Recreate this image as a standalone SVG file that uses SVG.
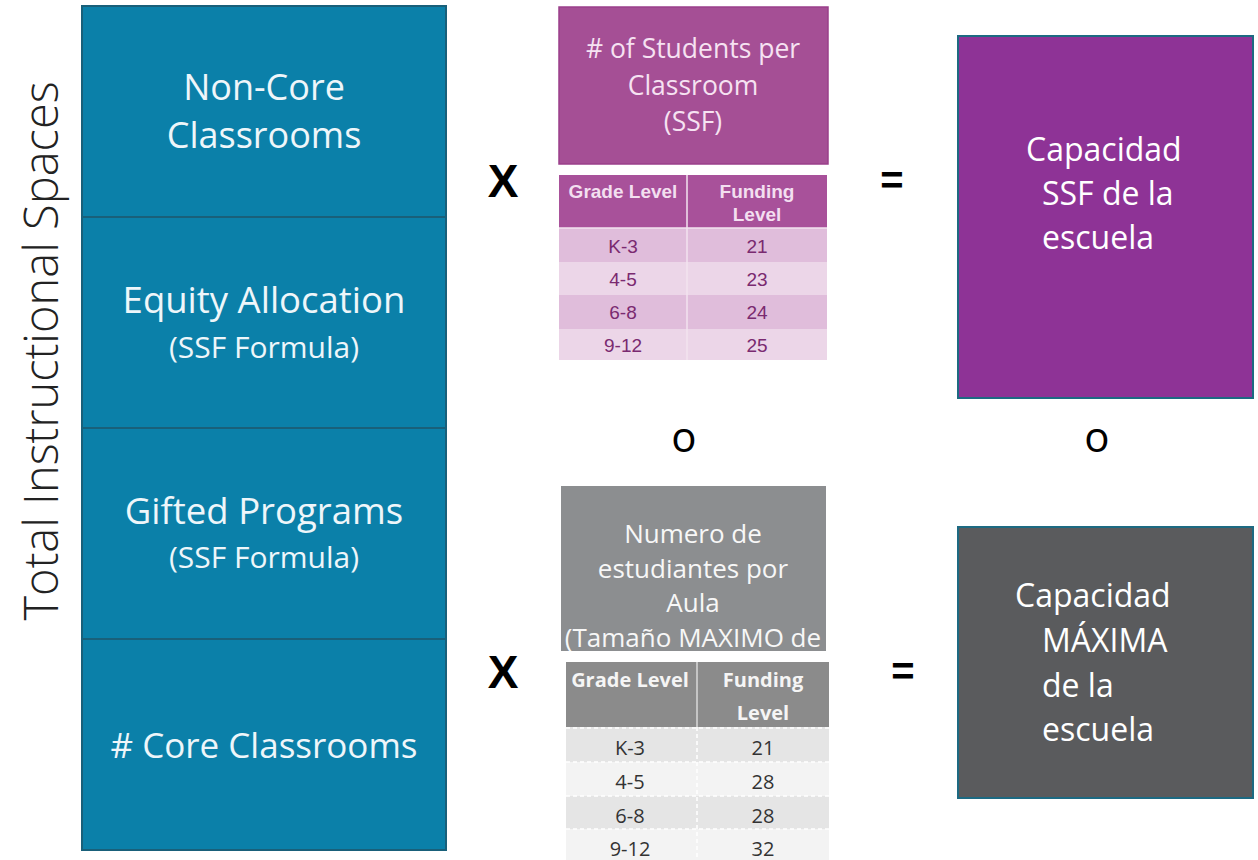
<svg xmlns="http://www.w3.org/2000/svg" width="1258" height="860" viewBox="0 0 1258 860">
<defs>
<style>
.os{font-family:"Open Sans","Liberation Sans",sans-serif}
.ar{font-family:"Liberation Sans",Arial,sans-serif}
.lt{fill:#eef6fa}
.seg{fill:#0b80a9;stroke:#19607a;stroke-width:2}
.mid{text-anchor:middle}
.ptxt{fill:#7a2a70;font-size:19px}
.gtxt{fill:#333;font-size:20px}
.op{font-weight:bold;fill:#000}
</style>
<clipPath id="gclip"><rect x="561" y="486" width="265" height="165"/></clipPath>
</defs>
<rect width="1258" height="860" fill="#fff"/>

<g id="axis-label">
<text class="os" transform="translate(58,351) rotate(-90)" text-anchor="middle" font-size="47" font-weight="300" fill="#222">Total Instructional Spaces</text>
</g>

<g id="non-core">
<rect class="seg" x="82" y="6" width="364" height="211"/>
<text class="os lt mid" font-size="36"><tspan x="264" y="100">Non-Core</tspan><tspan x="264" y="148">Classrooms</tspan></text>
</g>
<g id="equity">
<rect class="seg" x="82" y="217" width="364" height="211"/>
<text class="os lt mid" x="264" y="313" font-size="36.5">Equity Allocation</text>
<text class="os lt mid" x="264" y="358" font-size="30">(SSF Formula)</text>
</g>
<g id="gifted">
<rect class="seg" x="82" y="428" width="364" height="211"/>
<text class="os lt mid" x="264" y="524" font-size="36.5">Gifted Programs</text>
<text class="os lt mid" x="264" y="568" font-size="30">(SSF Formula)</text>
</g>
<g id="core">
<rect class="seg" x="82" y="639" width="364" height="211"/>
<text class="os lt mid" x="264" y="758" font-size="35"># Core Classrooms</text>
</g>

<g id="ssf-students">
<rect x="559" y="7" width="269" height="157" fill="#a54f95" stroke="#9a3f8a" stroke-width="1.5"/>
<text class="os mid" fill="#f6e2f2" font-size="26.5"><tspan x="693" y="58"># of Students per</tspan><tspan x="693" y="95">Classroom</tspan><tspan x="693" y="131">(SSF)</tspan></text>
</g>

<g id="ssf-table">
<rect x="559" y="175" width="268" height="53" fill="#a8519a"/>
<rect x="559" y="228" width="268" height="34" fill="#e0bddb"/>
<rect x="559" y="262" width="268" height="33" fill="#ecd6e8"/>
<rect x="559" y="295" width="268" height="34" fill="#e0bddb"/>
<rect x="559" y="329" width="268" height="31" fill="#ecd6e8"/>
<line x1="687" y1="175" x2="687" y2="360" stroke="#f3e3ef" stroke-width="1.5"/>
<line x1="559" y1="228" x2="827" y2="228" stroke="#f3e3ef" stroke-width="1.5"/>
<text class="ar mid" font-weight="bold" font-size="19" fill="#f3dff0"><tspan x="623" y="198">Grade Level</tspan><tspan x="757" y="198">Funding</tspan><tspan x="757" y="221">Level</tspan></text>
<text class="ar ptxt mid"><tspan x="623" y="253">K-3</tspan><tspan x="623" y="286">4-5</tspan><tspan x="623" y="319">6-8</tspan><tspan x="623" y="352">9-12</tspan></text>
<text class="ar ptxt mid"><tspan x="757" y="253">21</tspan><tspan x="757" y="286">23</tspan><tspan x="757" y="319">24</tspan><tspan x="757" y="352">25</tspan></text>
</g>

<g id="max-students">
<rect x="561" y="486" width="265" height="165" fill="#8c8e90"/>
<text class="os mid" fill="#f7f7f7" font-size="26" clip-path="url(#gclip)"><tspan x="693" y="543">Numero de</tspan><tspan x="693" y="578">estudiantes por</tspan><tspan x="693" y="612">Aula</tspan><tspan x="693" y="647">(Tamaño MAXIMO de</tspan></text>
</g>

<g id="max-table">
<rect x="566" y="662" width="263" height="65" fill="#8b8b8b"/>
<rect x="566" y="727" width="263" height="35" fill="#e5e5e5"/>
<rect x="566" y="762" width="263" height="34" fill="#f3f3f3"/>
<rect x="566" y="796" width="263" height="33" fill="#e5e5e5"/>
<rect x="566" y="829" width="263" height="31" fill="#f3f3f3"/>
<line x1="697" y1="662" x2="697" y2="727" stroke="#d8d8d8" stroke-width="1.5"/>
<g stroke="#fff" stroke-width="1.5" stroke-dasharray="4 3">
<line x1="697" y1="727" x2="697" y2="860"/>
<line x1="566" y1="728" x2="829" y2="728"/>
<line x1="566" y1="762" x2="829" y2="762"/>
<line x1="566" y1="796" x2="829" y2="796"/>
<line x1="566" y1="829" x2="829" y2="829"/>
</g>
<text class="os mid" font-weight="bold" font-size="20" fill="#f5f5f5"><tspan x="630" y="687">Grade Level</tspan><tspan x="763" y="687">Funding</tspan><tspan x="763" y="720">Level</tspan></text>
<text class="os gtxt mid"><tspan x="630" y="755">K-3</tspan><tspan x="630" y="789">4-5</tspan><tspan x="630" y="823">6-8</tspan><tspan x="630" y="856">9-12</tspan></text>
<text class="os gtxt mid"><tspan x="763" y="755">21</tspan><tspan x="763" y="789">28</tspan><tspan x="763" y="823">28</tspan><tspan x="763" y="856">32</tspan></text>
</g>

<g id="ssf-capacity">
<rect x="958" y="36" width="295" height="362" fill="#8e3396" stroke="#1d6a82" stroke-width="2"/>
<text class="os" fill="#fff" font-size="32"><tspan x="1026" y="161">Capacidad</tspan><tspan x="1042" y="205">SSF de la</tspan><tspan x="1042" y="249">escuela</tspan></text>
</g>

<g id="max-capacity">
<rect x="958" y="527" width="295" height="271" fill="#5a5b5d" stroke="#1d6a82" stroke-width="2"/>
<text class="os" fill="#fff" font-size="32"><tspan x="1015" y="607">Capacidad</tspan><tspan x="1042" y="652">MÁXIMA</tspan><tspan x="1042" y="697">de la</tspan><tspan x="1042" y="741">escuela</tspan></text>
</g>

<g id="connectors">
<text class="ar op mid" x="503" y="197" font-size="46">X</text>
<text class="ar op mid" x="503" y="688" font-size="46">X</text>
<text class="ar op mid" x="892" y="194" font-size="40">=</text>
<text class="ar op mid" x="903" y="685" font-size="40">=</text>
<text class="os mid" x="684" y="452" font-size="42" fill="#000">o</text>
<text class="os mid" x="1097" y="452" font-size="42" fill="#000">o</text>
</g>
</svg>
